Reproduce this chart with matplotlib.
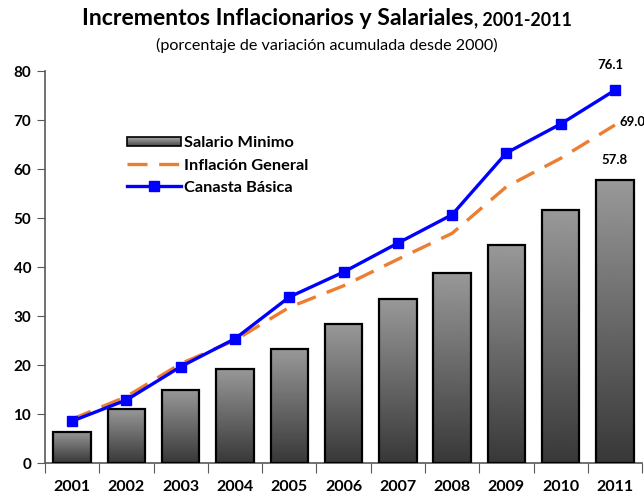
import numpy as np
import matplotlib
matplotlib.use("Agg")
import matplotlib.pyplot as plt
from matplotlib.patches import Rectangle
from matplotlib.lines import Line2D
from matplotlib.legend_handler import HandlerBase

plt.rcParams['font.family'] = ['Lato', 'DejaVu Sans']

years = ['2001', '2002', '2003', '2004', '2005', '2006', '2007', '2008', '2009', '2010', '2011']
salario = [6.4, 11.1, 15.0, 19.2, 23.4, 28.4, 33.5, 38.8, 44.6, 51.6, 57.8]
inflacion = [9.0, 13.6, 20.3, 25.1, 31.8, 36.2, 41.6, 46.9, 56.4, 62.2, 69.0]
canasta = [8.6, 12.9, 19.7, 25.4, 33.9, 39.0, 44.9, 50.7, 63.3, 69.2, 76.1]
labels_series = ['Salario Minimo', 'Inflación General', 'Canasta Básica']

fig = plt.figure(figsize=(6.44, 4.97), dpi=100)
ax = fig.add_axes([0.070, 0.068, 0.927, 0.789])

x = np.arange(len(years))
bw = 0.69
grad = np.linspace(0.22, 0.60, 256).reshape(-1, 1)
bars = ax.bar(x, salario, width=bw, facecolor='none', edgecolor='black', linewidth=1.6, zorder=3)
for b, v in zip(bars, salario):
    x0 = b.get_x()
    im = ax.imshow(grad, extent=[x0, x0 + bw, 0, v], origin='lower', aspect='auto',
                   cmap='gray', vmin=0, vmax=1, zorder=2)
    im.set_clip_path(b)

ax.plot(x, inflacion, color='#ED7D31', lw=2.4, dashes=(6, 3.5), zorder=4)
ax.plot(x, canasta, color='#0000FF', lw=2.4, marker='s', markersize=7.5, zorder=5)

ax.set_xlim(-0.5, len(years) - 0.5)
ax.set_ylim(0, 80)
ax.set_yticks(np.arange(0, 81, 10))
ax.set_xticks(np.arange(-0.5, len(years), 1.0))
ax.set_xticklabels([])
ax.set_xticks(x, minor=True)
ax.set_xticklabels(years, minor=True)
ax.tick_params(axis='x', which='minor', length=0, pad=12, labelsize=11.5)
ax.tick_params(axis='x', which='major', length=7, color='#595959', direction='out')
ax.tick_params(axis='y', length=6, color='#595959', labelsize=11, pad=4)
for lab in ax.get_xticklabels(minor=True) + ax.get_yticklabels():
    lab.set_fontweight('bold')
for s in ['top', 'right']:
    ax.spines[s].set_visible(False)
for s in ['left', 'bottom']:
    ax.spines[s].set_color('#595959')
    ax.spines[s].set_linewidth(1.2)

# data labels
ax.annotate(f'{canasta[-1]:.1f}', (x[-1], canasta[-1]), xytext=(-3, 18), textcoords='offset points',
            ha='center', va='center', fontsize=9.5, fontweight='bold')
ax.annotate(f'{inflacion[-1]:.1f}', (x[-1], inflacion[-1]), xytext=(3, 2), textcoords='offset points',
            ha='left', va='center', fontsize=9.5, fontweight='bold')
ax.annotate(f'{salario[-1]:.1f}', (x[-1], salario[-1]), xytext=(0, 14), textcoords='offset points',
            ha='center', va='center', fontsize=9.5, fontweight='bold')


class GradHandler(HandlerBase):
    def create_artists(self, legend, orig_handle, xdescent, ydescent, width, height, fontsize, trans):
        arts = []
        n = 8
        h = height * 0.75
        y0 = -ydescent + (height - h) / 2
        for i in range(n):
            c = 0.30 + 0.30 * (i / (n - 1))
            arts.append(Rectangle((-xdescent, y0 + h * i / n), width, h / n,
                                  facecolor=str(c), edgecolor='none', transform=trans))
        arts.append(Rectangle((-xdescent, y0), width, h, facecolor='none',
                              edgecolor='black', lw=1.2, transform=trans))
        return arts


h_bar = Rectangle((0, 0), 1, 1)
h_inf = Line2D([], [], color='#ED7D31', lw=2.4, dashes=(6, 3.5))
h_can = Line2D([], [], color='#0000FF', lw=2.4, marker='s', markersize=7.5)
leg = ax.legend([h_bar, h_inf, h_can], labels_series, handler_map={Rectangle: GradHandler()},
                loc='upper left', bbox_to_anchor=(0.113, 0.872), frameon=False,
                prop={'weight': 'bold', 'size': 11.8}, handlelength=3.3, handletextpad=0.15,
                labelspacing=0.48)

fig.text(473 / 644, 1 - 25 / 497, 'Incrementos Inflacionarios y Salariales', ha='right',
         va='baseline', fontsize=16.6, fontweight='bold')
fig.text(474 / 644, 1 - 25 / 497, ', 2001-2011', ha='left', va='baseline',
         fontsize=12.8, fontweight='bold')
fig.text(327 / 644, 1 - 50 / 497, '(porcentaje de variación acumulada desde 2000)', ha='center',
         va='baseline', fontsize=11.6)

fig.savefig('out.png', dpi=100)
